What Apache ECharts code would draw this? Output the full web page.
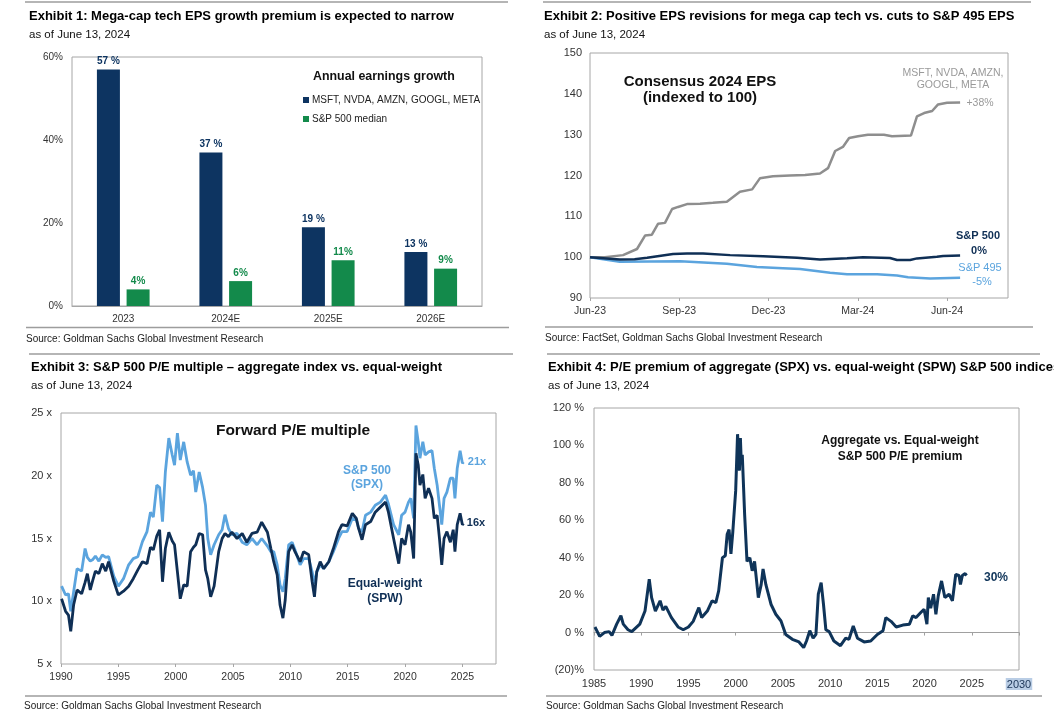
<!DOCTYPE html>
<html>
<head>
<meta charset="utf-8">
<script src="https://cdn.jsdelivr.net/npm/echarts@6/dist/echarts.min.js"></script>
<style>
  html, body { margin: 0; padding: 0; background: #ffffff; }
  #chart { width: 1054px; height: 720px; }
</style>
</head>
<body>
<div id="chart"></div>
<script>
// ---------- Exhibit 1 data ----------
const ex1Categories = ['2023', '2024E', '2025E', '2026E'];
const ex1MegaCap = [57, 37, 19, 13];
const ex1Median = [4, 6, 11, 9];

// ---------- Exhibit 2 data (x = months since Jun-23) ----------
const ex2TickLabels = ['Jun-23', 'Sep-23', 'Dec-23', 'Mar-24', 'Jun-24'];
const ex2MegaMonths = [0, 0.5, 1.11, 1.58, 1.85, 2.08, 2.29, 2.52, 2.76, 2.96, 3.26, 3.7, 4.13, 4.6, 5.04, 5.45, 5.71, 6.15, 6.72, 7.23, 7.73, 8.0, 8.24, 8.5, 8.71, 9.01, 9.34, 9.88, 10.15, 10.79, 10.99, 11.23, 11.5, 11.7, 12.0, 12.44];
const ex2MegaValues = [100, 100, 100.5, 102, 105.3, 105.5, 108.2, 108.4, 111.8, 112.3, 113, 113.1, 113.3, 113.6, 116, 116.6, 119.3, 119.8, 120, 120.1, 120.5, 121.8, 126, 127, 129.2, 129.6, 130, 130, 129.6, 129.8, 134.5, 135.3, 135.8, 137.4, 137.8, 137.9];
const ex2Spx500Months = [0, 1.0, 1.5, 1.92, 2.79, 3.26, 3.8, 4.71, 5.82, 6.96, 7.73, 8.64, 9.18, 10.08, 10.32, 10.76, 10.99, 11.66, 11.87, 12.44];
const ex2Spx500Values = [100, 99.4, 99.5, 99.85, 100.8, 100.9, 100.9, 100.5, 100.2, 99.85, 99.45, 99.75, 100, 99.8, 99.3, 99.3, 99.7, 100.1, 100.3, 100.4];
const ex2Spx495Months = [0, 1.0, 3.03, 4.6, 5.61, 6.49, 7.06, 8.07, 8.64, 9.65, 10.32, 10.69, 11.43, 12.44];
const ex2Spx495Values = [100, 98.9, 99.0, 98.4, 97.6, 97.3, 97.1, 96.2, 95.8, 95.8, 95.5, 95.1, 94.8, 94.95];

// ---------- Exhibit 3 data ----------
const ex3Years = [1990.05, 1990.4, 1990.65, 1990.85, 1991.1, 1991.4, 1991.8, 1992.1, 1992.3, 1992.55, 1992.75, 1993.0, 1993.3, 1993.6, 1993.9, 1994.15, 1994.6, 1995.0, 1995.45, 1995.9, 1996.3, 1996.7, 1997.1, 1997.5, 1997.8, 1998.05, 1998.35, 1998.6, 1998.85, 1999.1, 1999.4, 1999.7, 1999.9, 2000.15, 2000.4, 2000.7, 2001.0, 2001.3, 2001.55, 2001.75, 2002.05, 2002.35, 2002.6, 2002.8, 2003.05, 2003.35, 2003.75, 2004.05, 2004.3, 2004.6, 2004.9, 2005.35, 2005.8, 2006.2, 2006.65, 2007.1, 2007.5, 2008.0, 2008.3, 2008.55, 2008.85, 2009.1, 2009.35, 2009.55, 2009.85, 2010.15, 2010.4, 2010.85, 2011.15, 2011.6, 2011.9, 2012.1, 2012.3, 2012.6, 2012.9, 2013.35, 2013.75, 2014.2, 2014.5, 2014.95, 2015.4, 2015.75, 2015.95, 2016.25, 2016.55, 2017.0, 2017.4, 2017.85, 2018.3, 2018.55, 2019.0, 2019.45, 2019.7, 2020.0, 2020.3, 2020.5, 2020.75, 2020.95, 2021.15, 2021.3, 2021.55, 2021.75, 2022.05, 2022.35, 2022.55, 2022.8, 2023.0, 2023.2, 2023.4, 2023.65, 2023.95, 2024.2, 2024.35, 2024.55, 2024.8, 2025.0, 2025.1];
const ex3Spx = [11.2, 10.5, 10.6, 9.2, 10.75, 12.6, 12.4, 14.2, 13.5, 13.2, 13.3, 13.6, 13.2, 13.7, 13.5, 13.55, 12.0, 11.2, 11.8, 12.9, 13.4, 13.55, 14.75, 15.55, 17.1, 16.7, 19.25, 19.05, 16.35, 20.3, 23.0, 21.65, 20.85, 23.4, 21.25, 22.7, 21.1, 20.05, 20.4, 18.7, 20.3, 19.05, 17.65, 15.0, 13.7, 14.5, 15.3, 15.7, 16.9, 15.8, 15.3, 15.4, 14.7, 14.5, 15.0, 14.5, 15.0, 14.4, 13.95, 13.95, 12.9, 11.3, 10.75, 11.8, 14.5, 14.7, 14.1, 12.9, 13.4, 13.4, 12.35, 11.4, 12.35, 12.9, 12.6, 13.15, 13.95, 15.0, 15.55, 15.55, 16.6, 16.5, 15.8, 15.55, 16.85, 17.1, 17.65, 17.9, 18.45, 17.75, 16.1, 15.3, 16.85, 17.1, 17.9, 18.2, 16.6, 24.0, 22.7, 21.4, 22.7, 21.65, 21.9, 22.0, 20.6, 19.25, 17.65, 16.1, 18.2, 18.7, 19.8, 19.8, 18.2, 20.6, 22.0, 21.0, 21.1];
const ex3Spw = [10.2, 9.2, 8.9, 7.6, 9.7, 10.9, 10.6, 11.5, 12.2, 10.9, 11.6, 12.4, 12.2, 13.0, 12.4, 13.15, 11.6, 10.5, 10.8, 11.2, 11.8, 12.5, 13.15, 13.0, 14.3, 14.1, 15.2, 15.7, 11.55, 14.2, 15.5, 14.8, 14.5, 12.35, 10.2, 11.3, 11.2, 13.95, 14.3, 14.5, 15.4, 15.3, 12.5, 11.8, 10.35, 11.2, 13.95, 15.0, 15.4, 15.15, 15.5, 15.0, 15.4, 14.7, 15.4, 15.5, 16.3, 15.5, 14.2, 13.15, 12.1, 9.7, 8.65, 10.1, 13.95, 14.5, 13.95, 13.15, 13.95, 13.7, 11.55, 10.35, 12.35, 13.15, 12.6, 13.15, 14.2, 15.55, 16.1, 16.0, 17.0, 16.6, 15.8, 14.9, 16.1, 16.35, 17.1, 17.5, 17.9, 17.1, 15.0, 13.0, 15.0, 14.5, 16.1, 15.5, 13.4, 21.8, 20.85, 19.25, 20.1, 18.2, 19.0, 18.2, 16.6, 16.85, 15.0, 12.9, 15.0, 15.55, 14.7, 15.7, 13.95, 16.1, 17.0, 16.1, 16.2];

// ---------- Exhibit 4 data ----------
const ex4Years = [1985.1, 1985.6, 1986.1, 1986.6, 1986.9, 1987.4, 1987.85, 1988.1, 1988.6, 1989.0, 1989.85, 1990.4, 1990.85, 1991.1, 1991.5, 1992.0, 1992.3, 1992.6, 1993.2, 1993.9, 1994.45, 1995.0, 1995.5, 1996.1, 1996.4, 1997.0, 1997.5, 1997.9, 1998.2, 1998.6, 1998.9, 1999.1, 1999.3, 1999.5, 1999.7, 2000.0, 2000.2, 2000.4, 2000.5, 2000.6, 2000.7, 2000.95, 2001.2, 2001.5, 2001.75, 2002.0, 2002.4, 2002.7, 2002.9, 2003.2, 2003.75, 2004.25, 2004.8, 2005.3, 2006.0, 2006.7, 2007.2, 2007.5, 2007.85, 2008.2, 2008.5, 2008.75, 2009.05, 2009.3, 2009.55, 2009.9, 2010.4, 2011.1, 2011.65, 2012.0, 2012.45, 2012.9, 2013.6, 2014.3, 2015.0, 2015.6, 2015.9, 2016.45, 2017.0, 2017.7, 2018.4, 2018.75, 2019.1, 2019.6, 2019.95, 2020.25, 2020.4, 2020.65, 2020.95, 2021.2, 2021.45, 2021.8, 2022.15, 2022.6, 2022.95, 2023.3, 2023.65, 2023.8, 2024.0, 2024.3, 2024.45];
const ex4Premium = [3, -2, 0, 0.5, -1.5, 4.5, 9, 4.5, 1.5, 0.5, 4.5, 11.5, 28.5, 18.7, 11.5, 17, 12, 14, 8, 3, 1.5, 3, 6, 13.3, 8, 11.5, 17, 16, 22.3, 40, 41, 52.5, 55, 42, 54, 75.7, 106, 86.5, 104, 90, 95, 63, 38, 40, 33, 38, 18.7, 25.6, 34, 25.6, 15, 9.8, 6.2, -1, -3.6, -5, -8, -4.5, 1, -3, -1, 20.5, 26.7, 15, 1.5, 0.5, -4.5, -7, -3, -3.6, 3.5, -3, -5, -4.5, -1, 1, 8, 6, 3, 4, 4.5, 9, 8, 10.7, 12.5, 4.5, 18.7, 13, 20.5, 9.8, 19.6, 27.6, 18.7, 20.5, 17, 31, 30.5, 25.7, 30.5, 31.5, 30.5];

// ---------- styling ----------
const FONT = '"Liberation Sans", Arial, Helvetica, sans-serif';
const NAVY = '#0d3461';
const GREEN = '#138a4b';
const LIGHT = '#5ba4de';
const DARKLINE = '#0f2f55';
const GRAYLINE = '#8e8e8e';
const BORDER = '#a6a6a6';
const SEP = '#9d9d9d';
const TICKTXT = '#333333';

const zip = (xs, ys) => xs.map((x, i) => [x, ys[i]]);

function txt(x, y, text, size, color, weight, align) {
  return {
    type: 'text', x: x, y: y, silent: true,
    style: {
      text: text, fill: color,
      font: (weight || 'normal') + ' ' + size + 'px ' + FONT,
      align: align || 'left', verticalAlign: 'middle',
      textAlign: align || 'left', textVerticalAlign: 'middle'
    }
  };
}
function sep(x1, x2, y) {
  return { type: 'line', silent: true, shape: { x1: x1, y1: y, x2: x2, y2: y }, style: { stroke: SEP, lineWidth: 1.5 } };
}

const gridBase = { show: true, borderColor: BORDER, borderWidth: 1, backgroundColor: 'transparent', containLabel: false };
const labelStyle = (size) => ({ color: TICKTXT, fontFamily: FONT, fontSize: size });

const option = {
  animation: false,
  backgroundColor: '#ffffff',
  grid: [
    Object.assign({ left: 72, top: 57, width: 410, height: 249 }, gridBase),
    Object.assign({ left: 590, top: 53, width: 418, height: 245 }, gridBase),
    Object.assign({ left: 61, top: 413, width: 435, height: 251 }, gridBase),
    Object.assign({ left: 594, top: 408, width: 425, height: 262 }, gridBase)
  ],
  legend: {
    data: ['MSFT, NVDA, AMZN, GOOGL, META', 'S&P 500 median'],
    orient: 'vertical', left: 303, top: 94, padding: 0,
    itemWidth: 6, itemHeight: 6, itemGap: 7, icon: 'rect',
    textStyle: { fontFamily: FONT, fontSize: 10, color: '#222', lineHeight: 12, padding: [0, 0, 0, -2] }
  },
  xAxis: [
    { type: 'category', gridIndex: 0, data: ex1Categories,
      axisLine: { show: true, lineStyle: { color: BORDER } }, axisTick: { show: false },
      axisLabel: Object.assign({ margin: 8 }, labelStyle(10)), splitLine: { show: false } },
    { type: 'value', gridIndex: 1, min: 0, max: 14.05, interval: 3,
      axisLine: { show: false }, axisTick: { show: true, length: 3, lineStyle: { color: BORDER } },
      axisLabel: Object.assign({ margin: 8, showMaxLabel: false,
        formatter: v => (Math.abs(v / 3 - Math.round(v / 3)) < 1e-6 && ex2TickLabels[Math.round(v / 3)]) || '' }, labelStyle(10.5)),
      splitLine: { show: false } },
    { type: 'value', gridIndex: 2, min: 1990, max: 2027.93, interval: 5,
      axisLine: { show: false }, axisTick: { show: true, length: 3, lineStyle: { color: BORDER } },
      axisLabel: Object.assign({ margin: 8, showMaxLabel: false,
        formatter: v => (v % 5 === 0 ? String(v) : '') }, labelStyle(10.5)),
      splitLine: { show: false } },
    { type: 'value', gridIndex: 3, min: 1985, max: 2030, interval: 5, position: 'bottom',
      axisLine: { show: false, onZero: false }, axisTick: { show: false },
      axisLabel: Object.assign({ margin: 8,
        formatter: v => (v === 2030 ? '{hl|2030}' : String(v)),
        rich: { hl: { backgroundColor: '#b9cde5', color: '#1c3557', fontFamily: FONT, fontSize: 11, padding: [1, 1, 0, 1] } } }, labelStyle(11)),
      splitLine: { show: false } },
    { type: 'value', gridIndex: 3, min: 1985, max: 2030, interval: 5, position: 'bottom',
      axisLine: { show: true, onZero: true, lineStyle: { color: '#a0a0a0', width: 1 } },
      axisTick: { show: true, length: 3, lineStyle: { color: '#a0a0a0' } },
      axisLabel: { show: false }, splitLine: { show: false } }
  ],
  yAxis: [
    { type: 'value', gridIndex: 0, min: 0, max: 60, interval: 20,
      axisLine: { show: false }, axisTick: { show: false },
      axisLabel: Object.assign({ margin: 9, formatter: v => v + '%' }, labelStyle(10)), splitLine: { show: false } },
    { type: 'value', gridIndex: 1, min: 90, max: 150, interval: 10,
      axisLine: { show: false }, axisTick: { show: false },
      axisLabel: Object.assign({ margin: 8 }, labelStyle(11)), splitLine: { show: false } },
    { type: 'value', gridIndex: 2, min: 5, max: 25, interval: 5,
      axisLine: { show: false }, axisTick: { show: false },
      axisLabel: Object.assign({ margin: 9, formatter: v => v + ' x' }, labelStyle(11)), splitLine: { show: false } },
    { type: 'value', gridIndex: 3, min: -20, max: 120, interval: 20,
      axisLine: { show: false }, axisTick: { show: false },
      axisLabel: Object.assign({ margin: 10, formatter: v => (v < 0 ? '(' + (-v) + ')%' : v + ' %') }, labelStyle(11)), splitLine: { show: false } }
  ],
  series: [
    { type: 'bar', name: 'MSFT, NVDA, AMZN, GOOGL, META', xAxisIndex: 0, yAxisIndex: 0,
      data: ex1MegaCap, barWidth: 23, barGap: '29%', itemStyle: { color: NAVY },
      label: { show: true, position: 'top', distance: 3, formatter: p => p.value + ' %',
        color: NAVY, fontWeight: 'bold', fontSize: 10, fontFamily: FONT } },
    { type: 'bar', name: 'S&P 500 median', xAxisIndex: 0, yAxisIndex: 0,
      data: ex1Median, barWidth: 23, barGap: '29%', itemStyle: { color: GREEN },
      label: { show: true, position: 'top', distance: 3, formatter: p => p.value + '%',
        color: GREEN, fontWeight: 'bold', fontSize: 10, fontFamily: FONT } },

    { type: 'line', name: 'Mega-cap EPS', xAxisIndex: 1, yAxisIndex: 1, data: zip(ex2MegaMonths, ex2MegaValues),
      showSymbol: false, lineStyle: { color: GRAYLINE, width: 2.5 }, itemStyle: { color: GRAYLINE } },
    { type: 'line', name: 'S&P 495 EPS', xAxisIndex: 1, yAxisIndex: 1, data: zip(ex2Spx495Months, ex2Spx495Values),
      showSymbol: false, lineStyle: { color: LIGHT, width: 2.5 }, itemStyle: { color: LIGHT } },
    { type: 'line', name: 'S&P 500 EPS', xAxisIndex: 1, yAxisIndex: 1, data: zip(ex2Spx500Months, ex2Spx500Values),
      showSymbol: false, lineStyle: { color: DARKLINE, width: 2.5 }, itemStyle: { color: DARKLINE } },

    { type: 'line', name: 'SPX P/E', xAxisIndex: 2, yAxisIndex: 2, data: zip(ex3Years, ex3Spx),
      showSymbol: false, lineStyle: { color: LIGHT, width: 2.8 }, itemStyle: { color: LIGHT } },
    { type: 'line', name: 'SPW P/E', xAxisIndex: 2, yAxisIndex: 2, data: zip(ex3Years, ex3Spw),
      showSymbol: false, lineStyle: { color: DARKLINE, width: 2.8 }, itemStyle: { color: DARKLINE } },

    { type: 'line', name: 'Premium', xAxisIndex: 3, yAxisIndex: 3, data: zip(ex4Years, ex4Premium),
      showSymbol: false, lineStyle: { color: '#0f3459', width: 3 }, itemStyle: { color: '#0f3459' } }
  ],
  graphic: [
    // separators
    sep(25, 508, 2), sep(543, 1031, 2),
    sep(26, 509, 327.5), sep(545, 1033, 327),
    sep(29, 513, 354), sep(547, 1040, 354),
    sep(25, 507, 696), sep(546, 1042, 696),
    // Exhibit 1
    txt(29, 16, 'Exhibit 1: Mega-cap tech EPS growth premium is expected to narrow', 13, '#000', 'bold'),
    txt(29, 34.5, 'as of June 13, 2024', 11.5, '#111'),
    txt(313, 77, 'Annual earnings growth', 12.4, '#111', 'bold'),
    txt(26, 339, 'Source: Goldman Sachs Global Investment Research', 10, '#222'),
    // Exhibit 2
    txt(544, 16, 'Exhibit 2: Positive EPS revisions for mega cap tech vs. cuts to S&P 495 EPS', 13, '#000', 'bold'),
    txt(544, 34.5, 'as of June 13, 2024', 11.5, '#111'),
    txt(700, 82, 'Consensus 2024 EPS', 15, '#111', 'bold', 'center'),
    txt(700, 98, '(indexed to 100)', 15, '#111', 'bold', 'center'),
    txt(953, 73, 'MSFT, NVDA, AMZN,', 10.5, '#9a9a9a', 'normal', 'center'),
    txt(953, 85, 'GOOGL, META', 10.5, '#9a9a9a', 'normal', 'center'),
    txt(980, 103, '+38%', 10.5, '#9a9a9a', 'normal', 'center'),
    txt(978, 236, 'S&P 500', 11, DARKLINE, 'bold', 'center'),
    txt(979, 251, '0%', 11, DARKLINE, 'bold', 'center'),
    txt(980, 268, 'S&P 495', 11, LIGHT, 'normal', 'center'),
    txt(982, 282, '-5%', 11, LIGHT, 'normal', 'center'),
    txt(545, 338.5, 'Source: FactSet, Goldman Sachs Global Investment Research', 10, '#222'),
    // Exhibit 3
    txt(31, 367, 'Exhibit 3: S&P 500 P/E multiple \u2013 aggregate index vs. equal-weight', 13, '#000', 'bold'),
    txt(31, 386, 'as of June 13, 2024', 11.5, '#111'),
    txt(293, 431, 'Forward P/E multiple', 15.5, '#111', 'bold', 'center'),
    txt(367, 471, 'S&P 500', 12, LIGHT, 'bold', 'center'),
    txt(367, 485, '(SPX)', 12, LIGHT, 'bold', 'center'),
    txt(477, 461.5, '21x', 11, LIGHT, 'bold', 'center'),
    txt(476, 523, '16x', 11, DARKLINE, 'bold', 'center'),
    txt(385, 584, 'Equal-weight', 12, DARKLINE, 'bold', 'center'),
    txt(385, 599, '(SPW)', 12, DARKLINE, 'bold', 'center'),
    txt(24, 706, 'Source: Goldman Sachs Global Investment Research', 10, '#222'),
    // Exhibit 4
    txt(548, 367, 'Exhibit 4: P/E premium of aggregate (SPX) vs. equal-weight (SPW) S&P 500 indices', 13, '#000', 'bold'),
    txt(548, 386, 'as of June 13, 2024', 11.5, '#111'),
    txt(900, 441, 'Aggregate vs. Equal-weight', 12, '#111', 'bold', 'center'),
    txt(900, 457, 'S&P 500 P/E premium', 12, '#111', 'bold', 'center'),
    txt(996, 578, '30%', 12, '#0f3459', 'bold', 'center'),
    txt(546, 706, 'Source: Goldman Sachs Global Investment Research', 10, '#222')
  ]
};

const chart = echarts.init(document.getElementById('chart'), null, { renderer: 'canvas', width: 1054, height: 720 });
chart.setOption(option);
</script>
</body>
</html>
